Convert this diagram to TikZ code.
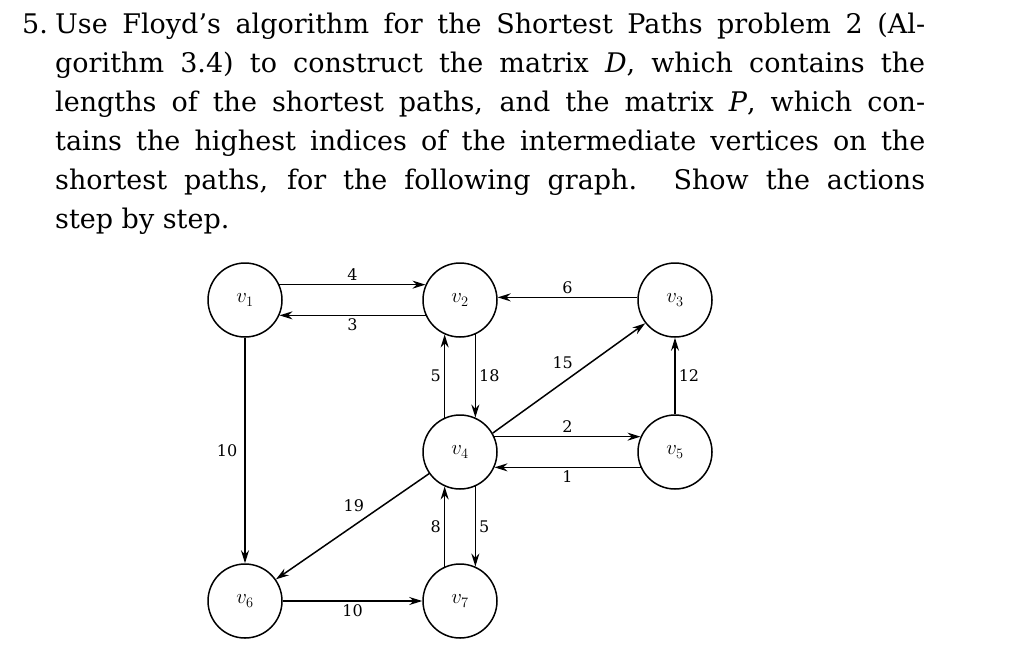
\documentclass[tikz,border=0pt]{standalone}
\usepackage{fontspec}
\setmainfont{DejaVu Serif}
\usetikzlibrary{arrows.meta}
\begin{document}
\begin{tikzpicture}[x=1pt,y=-1pt,
  vert/.style={circle,draw,line width=1.5pt,minimum size=74pt,inner sep=0pt,font=\fontsize{20}{20}\selectfont},
  edge/.style={line width=1.5pt,-{Stealth[length=13pt,width=8pt]}},
  wt/.style={font=\fontsize{16}{16}\selectfont,inner sep=3pt},
  txt/.style={anchor=base west,inner sep=0pt,font=\fontsize{27}{27}\selectfont}]
\useasboundingbox (0,0) rectangle (1024,648);
\node[txt] (n5) at (22,33) {5.};
\node[txt] (l1) at (55,33) {\makebox[870pt][s]{Use Floyd’s algorithm for the Shortest Paths problem 2 (Al-}};
\node[txt] (l2) at (55,72) {\makebox[870pt][s]{gorithm 3.4) to construct the matrix \textit{D}, which contains the}};
\node[txt] (l3) at (55,111) {\makebox[870pt][s]{lengths of the shortest paths, and the matrix \textit{P}, which con-}};
\node[txt] (l4) at (55,150) {\makebox[870pt][s]{tains the highest indices of the intermediate vertices on the}};
\node[txt] (l5) at (55,189) {\makebox[870pt][s]{shortest paths, for the following graph. Show the actions}};
\node[txt] (l6) at (55,228) {step by step.};

\node[vert] (v1) at (245,300) {$v_1$};
\node[vert] (v2) at (460,300) {$v_2$};
\node[vert] (v3) at (675,300) {$v_3$};
\node[vert] (v4) at (460,452) {$v_4$};
\node[vert] (v5) at (675,452) {$v_5$};
\node[vert] (v6) at (245,601) {$v_6$};
\node[vert] (v7) at (460,601) {$v_7$};

\draw[edge] (v1.24) -- node[wt,above] {4} (v2.156);
\draw[edge] (v2.204) -- node[wt,below] {3} (v1.-24);
\draw[edge] (v3.176) -- node[wt,above] {6} (v2.4);
\draw[edge] (v1) -- node[wt,left,pos=0.5,xshift=-4pt] {10} (v6);
\draw[edge] (v2.-66) -- node[wt,right] {18} (v4.66);
\draw[edge] (v4.114) -- node[wt,left] {5} (v2.246);
\draw[edge] (v4.30) -- node[wt,above left,pos=0.55] {15} (v3.218);
\draw[edge] (v4.24) -- node[wt,above] {2} (v5.156);
\draw[edge] (v5.204) -- node[wt,below] {1} (v4.-24);
\draw[edge] (v5) -- node[wt,right] {12} (v3);
\draw[edge] (v4.215) -- node[wt,above left,pos=0.4] {19} (v6.35);
\draw[edge] (v7.114) -- node[wt,left] {8} (v4.246);
\draw[edge] (v4.-66) -- node[wt,right] {5} (v7.66);
\draw[edge] (v6) -- node[wt,below] {10} (v7);
\end{tikzpicture}
\end{document}
